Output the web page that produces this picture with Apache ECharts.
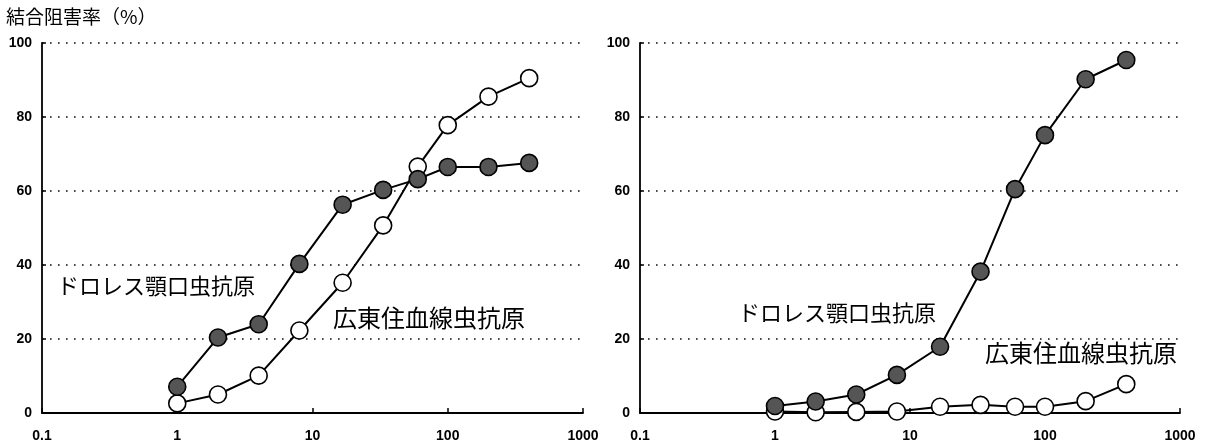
<!DOCTYPE html>
<html>
<head>
<meta charset="utf-8">
<script src="https://cdn.jsdelivr.net/npm/echarts@6/dist/echarts.min.js"></script>
<style>
html,body{margin:0;padding:0;background:#fff;}
#chart{width:1210px;height:447px;}
</style>
</head>
<body>
<div id="chart"></div>
<script>
// Antigen dilution / concentration (x, log scale)
const doses = [1, 2, 4, 8, 16.7, 33.3, 60, 100, 200, 400];
// Left panel
const leftGnathostoma = [7.1, 20.4, 24.0, 40.3, 56.3, 60.3, 63.2, 66.5, 66.5, 67.6];
const leftAngiostrongylus = [2.6, 5.0, 10.1, 22.3, 35.2, 50.7, 66.6, 77.8, 85.5, 90.5];
// Right panel
const rightGnathostoma = [1.9, 3.1, 5.0, 10.3, 17.9, 38.2, 60.5, 75.1, 90.2, 95.4];
const rightAngiostrongylus = [0.4, 0.2, 0.3, 0.4, 1.7, 2.2, 1.7, 1.7, 3.2, 7.8];
// Tick labels
const xTicks = ['0.1', '1', '10', '100', '1000'];
const yTicks = ['0', '20', '40', '60', '80', '100'];
const nameG = 'ドロレス顎口虫抗原';
const nameA = '広東住血線虫抗原';
const yTitle = '結合阻害率（%）';

const pairs = (xs, ys) => xs.map((x, i) => [x, ys[i]]);
const numFont = '"Liberation Sans", Arial, sans-serif';
const cjkFont = '"Noto Sans CJK JP", sans-serif';

function xAxis(gi) {
  return {
    type: 'log', logBase: 10, gridIndex: gi, min: 0.1, max: 1000,
    axisLine: { show: true, lineStyle: { color: '#000', width: 1.8 } },
    axisTick: { show: true, inside: true, length: 5, lineStyle: { color: '#000', width: 1.5 } },
    minorTick: { show: false },
    splitLine: { show: false },
    axisLabel: {
      margin: 16, color: '#000', fontFamily: numFont, fontWeight: 'bold', fontSize: 14,
      formatter: v => { const s = xTicks.find(t => Math.abs(parseFloat(t) - v) < 1e-6 * Math.max(1, v)); return s || ''; }
    }
  };
}
function yAxis(gi, margin) {
  return {
    type: 'value', gridIndex: gi, min: 0, max: 100, interval: 20,
    axisLine: { show: true, lineStyle: { color: '#000', width: 1.8 } },
    axisTick: { show: true, inside: true, length: 4, lineStyle: { color: '#000', width: 1.5 } },
    splitLine: { show: true, lineStyle: { color: '#111', width: 1.6, type: [1.6, 6.4] } },
    axisLabel: {
      margin: margin, color: '#000', fontFamily: numFont, fontWeight: 'bold', fontSize: 14,
      formatter: v => yTicks[Math.round(v / 20)] || ''
    }
  };
}
function series(name, xi, data, filled, z) {
  return {
    name: name, type: 'line', xAxisIndex: xi, yAxisIndex: xi,
    data: data, clip: false, z: z,
    symbol: 'circle', symbolSize: 17,
    lineStyle: { color: '#000', width: 2 },
    itemStyle: { color: filled ? '#555' : '#fff', borderColor: '#000', borderWidth: 1.6 },
    emphasis: { disabled: true },
    animation: false
  };
}

const chart = echarts.init(document.getElementById('chart'), null, { renderer: 'canvas' });
chart.setOption({
  animation: false,
  backgroundColor: '#fff',
  grid: [
    { left: 42, right: 627, top: 43, bottom: 34 },
    { left: 640, right: 30, top: 43, bottom: 34 }
  ],
  xAxis: [xAxis(0), xAxis(1)],
  yAxis: [yAxis(0, 10), yAxis(1, 10)],
  series: [
    series(nameA, 0, pairs(doses, leftAngiostrongylus), false, 2),
    series(nameG, 0, pairs(doses, leftGnathostoma), true, 3),
    series(nameA, 1, pairs(doses, rightAngiostrongylus), false, 2),
    series(nameG, 1, pairs(doses, rightGnathostoma), true, 3)
  ],
  graphic: [
    { type: 'text', left: 6, top: 7, style: { text: yTitle, font: '19px ' + cjkFont, fill: '#000' } },
    { type: 'text', left: 57, top: 275, style: { text: nameG, font: '22px ' + cjkFont, fill: '#000' } },
    { type: 'text', left: 333, top: 306, style: { text: nameA, font: '24px ' + cjkFont, fill: '#000' } },
    { type: 'text', left: 738, top: 302, style: { text: nameG, font: '22px ' + cjkFont, fill: '#000' } },
    { type: 'text', left: 985, top: 341, style: { text: nameA, font: '24px ' + cjkFont, fill: '#000' } }
  ]
});
</script>
</body>
</html>
